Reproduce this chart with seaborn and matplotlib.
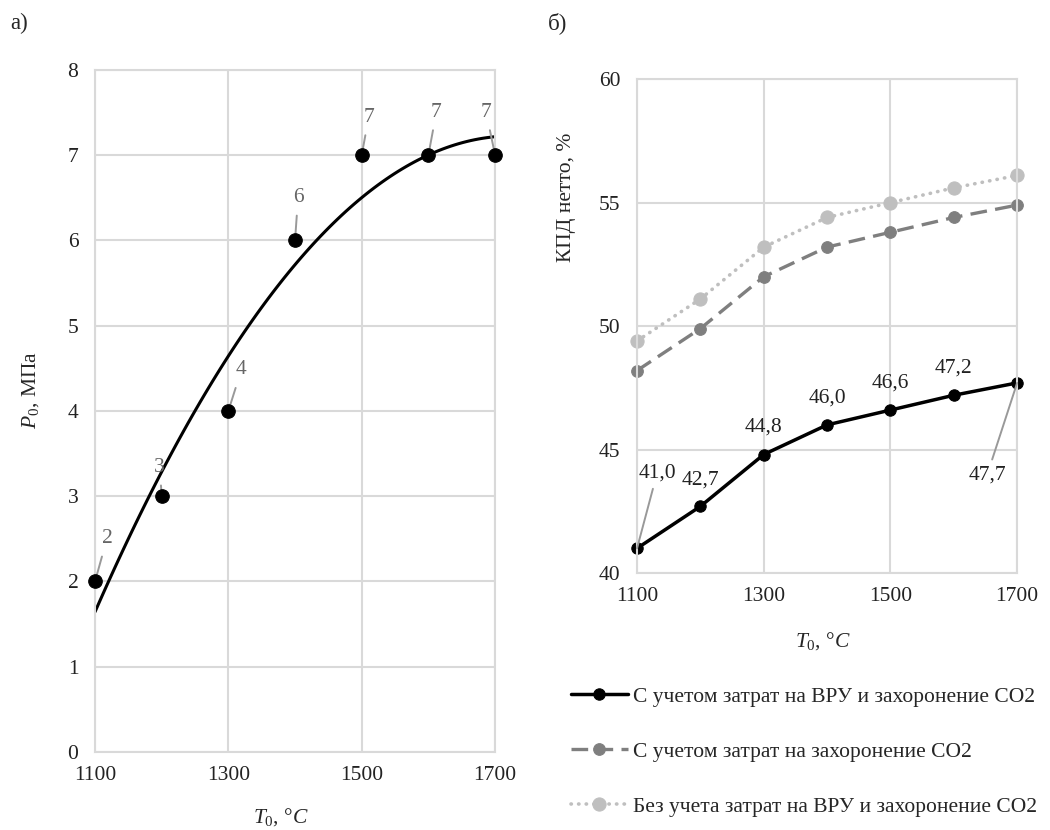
import numpy as np
import pandas as pd
import matplotlib
matplotlib.use("Agg")
import matplotlib.pyplot as plt
import seaborn as sns

# --- data ---
t0 = [1100, 1200, 1300, 1400, 1500, 1600, 1700]
p0 = [2, 3, 4, 6, 7, 7, 7]

eff_full = [41.0, 42.7, 44.8, 46.0, 46.6, 47.2, 47.7]     # ВРУ + захоронение
eff_co2 = [48.2, 49.9, 52.0, 53.2, 53.8, 54.4, 54.9]      # только захоронение
eff_none = [49.4, 51.1, 53.2, 54.4, 55.0, 55.6, 56.1]     # без учета

eff_labels = ["41,0", "42,7", "44,8", "46,0", "46,6", "47,2", "47,7"]
series_names = ["С учетом затрат на ВРУ и захоронение СО2",
                "С учетом затрат на захоронение СО2",
                "Без учета затрат на ВРУ и захоронение СО2"]

sns.set_theme(style="whitegrid")
plt.rcParams["font.family"] = ["Liberation Serif", "DejaVu Serif"]
plt.rcParams["mathtext.fontset"] = "custom"
plt.rcParams["mathtext.it"] = "Liberation Serif:italic"
plt.rcParams["mathtext.rm"] = "Liberation Serif"

grid_c = "#d9d9d9"
fs = 15.5
px = 0.72  # points per pixel at dpi 100

fig = plt.figure(figsize=(10.5, 8.3), dpi=100)
ax1 = fig.add_axes([0.0905, 0.094, 0.381, 0.822])
ax2 = fig.add_axes([0.6067, 0.3096, 0.362, 0.595])

for ax in (ax1, ax2):
    ax.set_facecolor("white")
    ax.grid(True, color=grid_c, linewidth=1.5)
    for s in ax.spines.values():
        s.set_color(grid_c)
        s.set_linewidth(1.5)
    ax.tick_params(axis="both", length=0, labelsize=fs, colors="#222222")
    ax.tick_params(axis="y", pad=12)
    ax.tick_params(axis="x", pad=10)
    ax.set_axisbelow(True)

# --- panel a ---
df_a = pd.DataFrame({"T": t0, "P": p0})
sns.regplot(data=df_a, x="T", y="P", order=2, ci=None, scatter=False,
            truncate=True, ax=ax1, line_kws=dict(color="black", lw=2.2))
sns.scatterplot(data=df_a, x="T", y="P", ax=ax1, color="black", s=95,
                edgecolor="black", zorder=5, clip_on=False)
ax1.set_xlim(1100, 1700)
ax1.set_ylim(0, 8)
ax1.set_xticks([1100, 1300, 1500, 1700])
ax1.set_yticks(range(0, 9))
ax1.set_xlabel(r"$T_0$, $°C$", fontsize=fs)
ax1.set_ylabel(r"$P_0$, МПа", fontsize=fs)
ax1.xaxis.set_label_coords(0.465, -0.08)
ax1.yaxis.set_label_coords(-0.135, 0.53)

# label offsets in pixels (right, up)
offs_a = [(12, 43), (-2, 29), (13, 41), (3, 43), (7, 38), (8, 43), (-9, 43)]
for x, y, (dx, dy) in zip(t0, p0, offs_a):
    ax1.annotate(str(y), xy=(x, y), xytext=(dx * px, dy * px),
                 textcoords="offset points", ha="center", va="center",
                 fontsize=fs, color="#666666",
                 arrowprops=dict(arrowstyle="-", color="#999999", lw=1.4,
                                 shrinkA=4, shrinkB=0), zorder=3)

# --- panel b ---
df_b = pd.DataFrame({"T": t0 * 3,
                     "eff": eff_full + eff_co2 + eff_none,
                     "series": [series_names[0]] * 7 + [series_names[1]] * 7 + [series_names[2]] * 7})
styles = [dict(color="black", ls="-", lw=2.5, ms=8.2),
          dict(color="#7f7f7f", ls=(0, (5, 2.5)), lw=2.4, ms=8.4),
          dict(color="#bfbfbf", ls=(0, (0.1, 2)), lw=2.6, ms=9.5)]
for name, st in zip(series_names, styles):
    sub = df_b[df_b["series"] == name]
    sns.lineplot(data=sub, x="T", y="eff", ax=ax2, color=st["color"],
                 linestyle=st["ls"], linewidth=st["lw"], marker="o",
                 markersize=st["ms"], markeredgecolor=st["color"],
                 label=name, clip_on=False, legend=False)
ax2.lines[2].set_dash_capstyle("round")
ax2.set_xlim(1100, 1700)
ax2.set_ylim(40, 60)
ax2.set_xticks([1100, 1300, 1500, 1700])
ax2.set_yticks([40, 45, 50, 55, 60])
ax2.set_xlabel(r"$T_0$, $°C$", fontsize=fs)
ax2.set_ylabel("КПД нетто, %", fontsize=fs)
ax2.xaxis.set_label_coords(0.49, -0.115)
ax2.yaxis.set_label_coords(-0.16, 0.76)

offs_b = [(20, 75), (0, 26), (0, 27), (0, 27), (0, 27), (0, 27), (-30, -92)]
for i, (x, y, lab) in enumerate(zip(t0, eff_full, eff_labels)):
    dx, dy = offs_b[i]
    arrow = None
    if i in (0, 6):
        arrow = dict(arrowstyle="-", color="#999999", lw=1.4, shrinkA=2, shrinkB=0)
    ax2.annotate(lab, xy=(x, y), xytext=(dx * px, dy * px),
                 textcoords="offset points", ha="center", va="center",
                 fontsize=fs, color="#222222", arrowprops=arrow)

handles = ax2.lines[:3]
fig.legend(handles, series_names, loc="upper left",
           bbox_to_anchor=(0.525, 0.196), frameon=False, fontsize=fs,
           labelspacing=1.62, handlelength=2.65, handletextpad=0.25)

fig.text(0.01, 0.985, "а)", fontsize=fs + 1, va="top")
fig.text(0.522, 0.985, "б)", fontsize=fs + 1, va="top")

fig.savefig("out.png", dpi=100, facecolor="white")
